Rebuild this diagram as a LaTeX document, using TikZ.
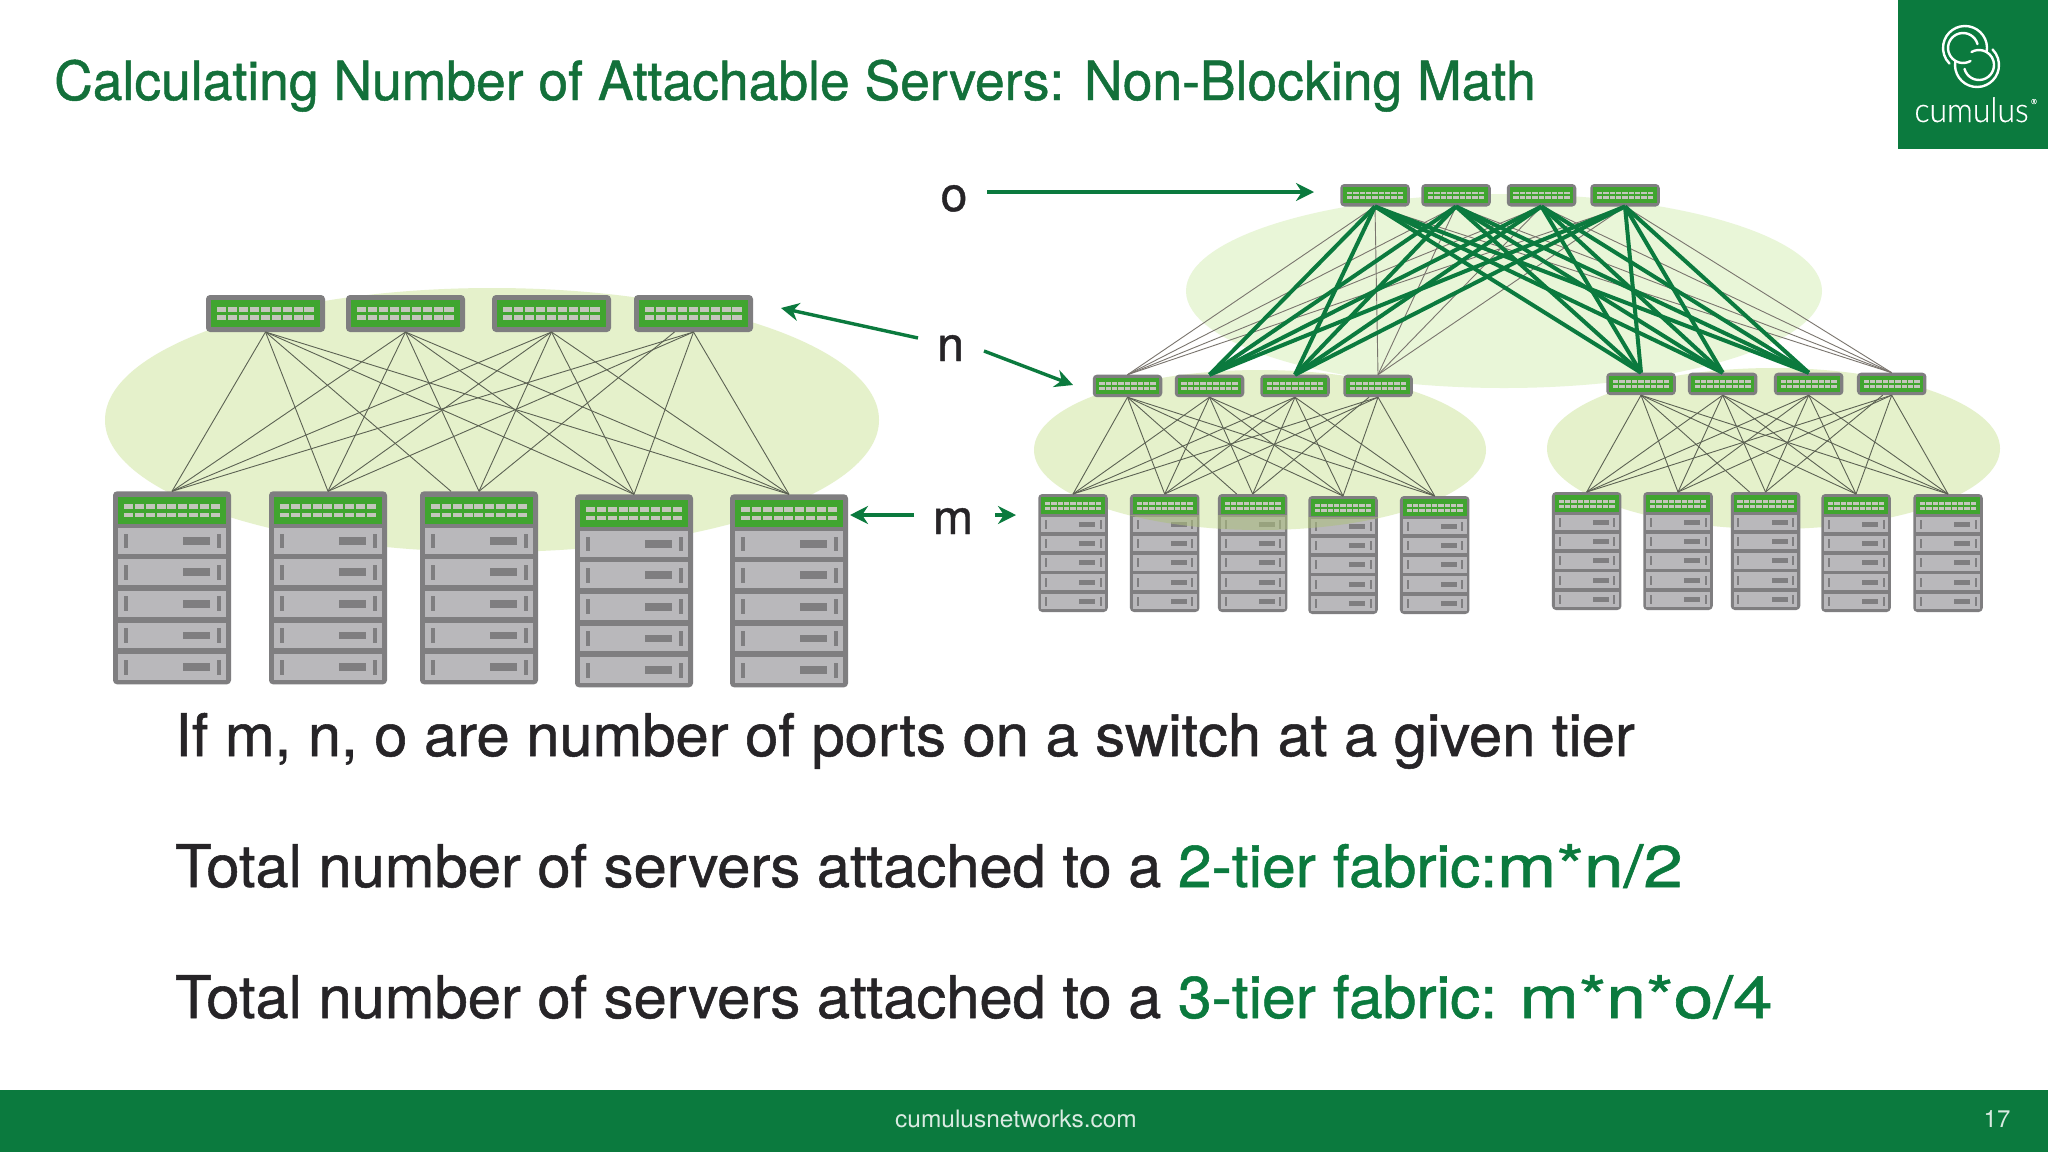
\documentclass[tikz,border=0pt]{standalone}
\usepackage{fontspec}
\usepackage{graphicx}
\usetikzlibrary{calc,arrows.meta}
\setmainfont{TeX Gyre Heros}[FakeBold=0.9]
\newfontfamily\logofont{Lato Light}[FakeBold=0.4]
\newfontfamily\footfont{TeX Gyre Heros}
\definecolor{brand}{HTML}{0B7A3E}
\definecolor{titlegreen}{HTML}{13703A}
\definecolor{ink}{HTML}{262427}
\definecolor{halo}{HTML}{E5F1CB}
\definecolor{halotop}{HTML}{E9F6D8}
\definecolor{shell}{HTML}{7F7E80}
\definecolor{swgreen}{HTML}{40A52F}
\definecolor{portgrey}{HTML}{C4C6BC}
\definecolor{blade}{HTML}{B9B8BB}
\definecolor{wire}{HTML}{5C6253}
\definecolor{wiregrey}{HTML}{7A756E}
\definecolor{tint}{HTML}{AEC07E}
\tikzset{
  shellbox/.style={fill=shell,rounded corners=4pt,inner sep=0pt,outer sep=0pt,anchor=north},
  haloshape/.style={fill=halo},
  thinlink/.style={draw=wire,line width=0.9pt},
  greylink/.style={draw=wiregrey,line width=0.9pt},
  thicklink/.style={draw=brand,line width=4pt},
  callout/.style={draw=brand,line width=3.4pt,-{Stealth[length=18pt,width=18pt]}},
  letter/.style={anchor=base,text=ink,font=\fontsize{48}{48}\selectfont,inner sep=0pt},
  bodyline/.style={anchor=base west,text=ink,font=\fontsize{58.8}{60}\selectfont,inner sep=0pt},
  ringline/.style={draw=white,line width=2.4pt,line cap=round}
}
% name, centre x, top y, width, height
\newcommand{\swunit}[5]{%
  \node[shellbox,minimum width=#4pt,minimum height=#5pt] (#1) at (#2,#3) {};
  \begin{scope}[shift={(#2-#4/2,#3)},xscale=#4,yscale=#5]
    \fill[swgreen] (0.045,0.14) rectangle (0.955,0.86);
    \foreach \i in {0,...,8}{
      \fill[portgrey] (0.095+\i*0.0915,0.335) rectangle ++(0.077,0.125);
      \fill[portgrey] (0.095+\i*0.0915,0.54) rectangle ++(0.077,0.125);
    }
  \end{scope}}
\newcommand{\rackunit}[5]{%
  \node[shellbox,minimum width=#4pt,minimum height=#5pt] (#1) at (#2,#3) {};
  \begin{scope}[shift={(#2-#4/2,#3)},xscale=#4,yscale=#5]
    \fill[swgreen] (0.04,0.028) rectangle (0.96,0.17);
    \foreach \i in {0,...,8}{
      \fill[portgrey] (0.095+\i*0.0915,0.067) rectangle ++(0.077,0.024);
      \fill[portgrey] (0.095+\i*0.0915,0.111) rectangle ++(0.077,0.024);
    }
    \foreach \t in {0.191,0.352,0.516,0.68,0.845}{
      \fill[blade] (0.04,\t) rectangle ++(0.92,0.133);
      \fill[shell] (0.593,\t+0.047) rectangle ++(0.225,0.04);
      \fill[shell] (0.095,\t+0.028) rectangle ++(0.028,0.077);
      \fill[shell] (0.883,\t+0.028) rectangle ++(0.029,0.077);
    }
  \end{scope}}
% prefix, offset at top switch 4, offset at rack 3
\newcommand{\fabric}[3]{%
  \coordinate (#1x4) at ($(#1t4.south)+(#2,0)$);
  \coordinate (#1x3) at ($(#1r3.north)+(#3,0)$);
  \foreach \t in {1,...,4}{\foreach \r in {1,...,5}{
    \ifnum\t\r=13 \draw[thinlink] (#1t1.south) -- (#1x3);
    \else\ifnum\t\r=43 \draw[thinlink] (#1x4) -- (#1r3.north);
    \else \draw[thinlink] (#1t\t.south) -- (#1r\r.north);
    \fi\fi
  }}}
\newcommand{\bodyfit}[1]{\scalebox{1.015}[1]{#1}}
\newcommand{\greenfit}[1]{\scalebox{1.03}[1]{\textcolor{brand}{#1}}}
\newcommand{\mathfit}[1]{\scalebox{1.21}[1]{\textcolor{brand}{#1}}}
\begin{document}
\begin{tikzpicture}[x=1pt,y=-1pt]
\useasboundingbox (0,0) rectangle (2048,1152);
\fill[white] (0,0) rectangle (2048,1152);
% halos
\fill[haloshape] (492,420) ellipse [x radius=387pt,y radius=132pt];
\fill[halotop] (1504,291) ellipse [x radius=318pt,y radius=97pt];
\fill[haloshape] (1260,450) ellipse [x radius=226pt,y radius=80pt];
\fill[haloshape] (1773.5,448.5) ellipse [x radius=226.5pt,y radius=80.5pt];
% two-tier fabric
\swunit{at1}{265.5}{295}{119}{37}
\swunit{at2}{405.5}{295}{119}{37}
\swunit{at3}{551.5}{295}{119}{37}
\swunit{at4}{693.5}{295}{119}{37}
\rackunit{ar1}{172}{491.3}{118}{193}
\rackunit{ar2}{328}{491.3}{118}{193}
\rackunit{ar3}{479}{491.3}{118}{193}
\rackunit{ar4}{634}{494.3}{118}{193}
\rackunit{ar5}{789}{494.3}{118}{193}
\fabric{a}{-19}{-28}
% three-tier fabric
\swunit{s1}{1375}{184}{69.5}{22.5}
\swunit{s2}{1456}{184}{69.5}{22.5}
\swunit{s3}{1541.5}{184}{69.5}{22.5}
\swunit{s4}{1625}{184}{69.5}{22.5}
\swunit{bt1}{1127.5}{374.7}{69.5}{22.5}
\swunit{bt2}{1209.5}{374.7}{69.5}{22.5}
\swunit{bt3}{1295}{374.7}{69.5}{22.5}
\swunit{bt4}{1378}{374.7}{69.5}{22.5}
\rackunit{br1}{1073}{494}{69.5}{118}
\rackunit{br2}{1164.7}{494}{69.5}{118}
\rackunit{br3}{1252.7}{494}{69.5}{118}
\rackunit{br4}{1343}{496}{69.5}{118}
\rackunit{br5}{1434.7}{496}{69.5}{118}
\fabric{b}{-9}{-16}
\begin{scope}
  \clip (1130,515) rectangle (1199,612)
        (1218,515) rectangle (1287,612)
        (1308,517) rectangle (1378,612);
  \fill[tint,opacity=.55] (1260,450) ellipse [x radius=226pt,y radius=80pt];
\end{scope}
\swunit{ct1}{1641}{372.7}{69.5}{22.5}
\swunit{ct2}{1722.7}{372.7}{69.5}{22.5}
\swunit{ct3}{1808.7}{372.7}{69.5}{22.5}
\swunit{ct4}{1891.7}{372.7}{69.5}{22.5}
\rackunit{cr1}{1586.7}{492}{69.5}{118}
\rackunit{cr2}{1678}{492}{69.5}{118}
\rackunit{cr3}{1765.5}{492}{69.5}{118}
\rackunit{cr4}{1856}{494}{69.5}{118}
\rackunit{cr5}{1948}{494}{69.5}{118}
\fabric{c}{-9}{-16}
% spine links
\foreach \s in {1,...,4}{
  \foreach \l in {bt1,bt4,ct4}{\draw[greylink] (s\s.south) -- (\l.north);}
}
\foreach \s in {1,...,4}{
  \foreach \l in {bt2,bt3,ct1,ct2,ct3}{\draw[thicklink] (s\s.south) -- (\l.north);}
}
% callouts
\coordinate (oTail) at (987,192); \coordinate (oTip) at (1314,192);
\coordinate (nTailL) at (918,338); \coordinate (nTipL) at (781,308);
\coordinate (nTailR) at (984,351); \coordinate (nTipR) at (1073,385);
\coordinate (mTailL) at (914,515); \coordinate (mTipL) at (850,515);
\coordinate (mTailR) at (995,515); \coordinate (mTipR) at (1016,515);
\draw[callout] (oTail) -- (oTip);
\draw[callout] (nTailL) -- (nTipL);
\draw[callout] (nTailR) -- (nTipR);
\draw[callout] (mTailL) -- (mTipL);
\draw[callout] (mTailR) -- (mTipR);
\node[letter] (lo) at (954,211) {o};
\node[letter] (ln) at (950.6,361) {n};
\node[letter] (lm) at (953,534) {m};
% title
\node[anchor=base west,inner sep=0pt,text=titlegreen,font=\fontsize{54}{56}\selectfont] (title) at (54,100)
  {\scalebox{0.99}[1]{Calculating Number of Attachable Servers: Non-Blocking Math}};
% body
\node[bodyline] (b1) at (175,756) {\bodyfit{If m, n, o are number of ports on a switch at a given tier}};
\node[bodyline] (b2) at (175,887) {\bodyfit{Total number of servers attached to a }\greenfit{2-tier fabric:}\mathfit{m*n/2}};
\node[bodyline] (b3) at (175,1018) {\bodyfit{Total number of servers attached to a }\greenfit{3-tier fabric: }\mathfit{m*n*o/4}};
% footer
\fill[brand] (0,1090) rectangle (2048,1152);
\node[anchor=base,text=white!85!brand,inner sep=0pt,font=\footfont\fontsize{24}{26}\selectfont] (site) at (1016,1127) {\scalebox{1.02}[1]{cumulusnetworks.com}};
\node[anchor=base,text=white!85!brand,inner sep=0pt,font=\footfont\fontsize{24}{26}\selectfont] (page) at (1997,1127) {17};
% logo
\fill[brand] (1898,0) rectangle (2048,149);
\draw[ringline] (1965,48) ++(-10:22pt) arc[start angle=-10,end angle=225,radius=22pt];
\draw[ringline] (1963,48) ++(15:15pt) arc[start angle=15,end angle=300,radius=15pt];
\draw[ringline] (1977,65) ++(170:22pt) arc[start angle=170,end angle=405,radius=22pt];
\draw[ringline] (1979,65) ++(195:15pt) arc[start angle=195,end angle=480,radius=15pt];
\node[anchor=base,text=white,inner sep=0pt,font=\logofont\fontsize{34}{34}\selectfont] (logoword) at (1971.5,122) {\scalebox{.94}[1]{cumulus}};
\node[anchor=base,text=white,inner sep=0pt,font=\logofont\fontsize{7}{7}\selectfont] (logomark) at (2034,104) {®};
\end{tikzpicture}
\end{document}
